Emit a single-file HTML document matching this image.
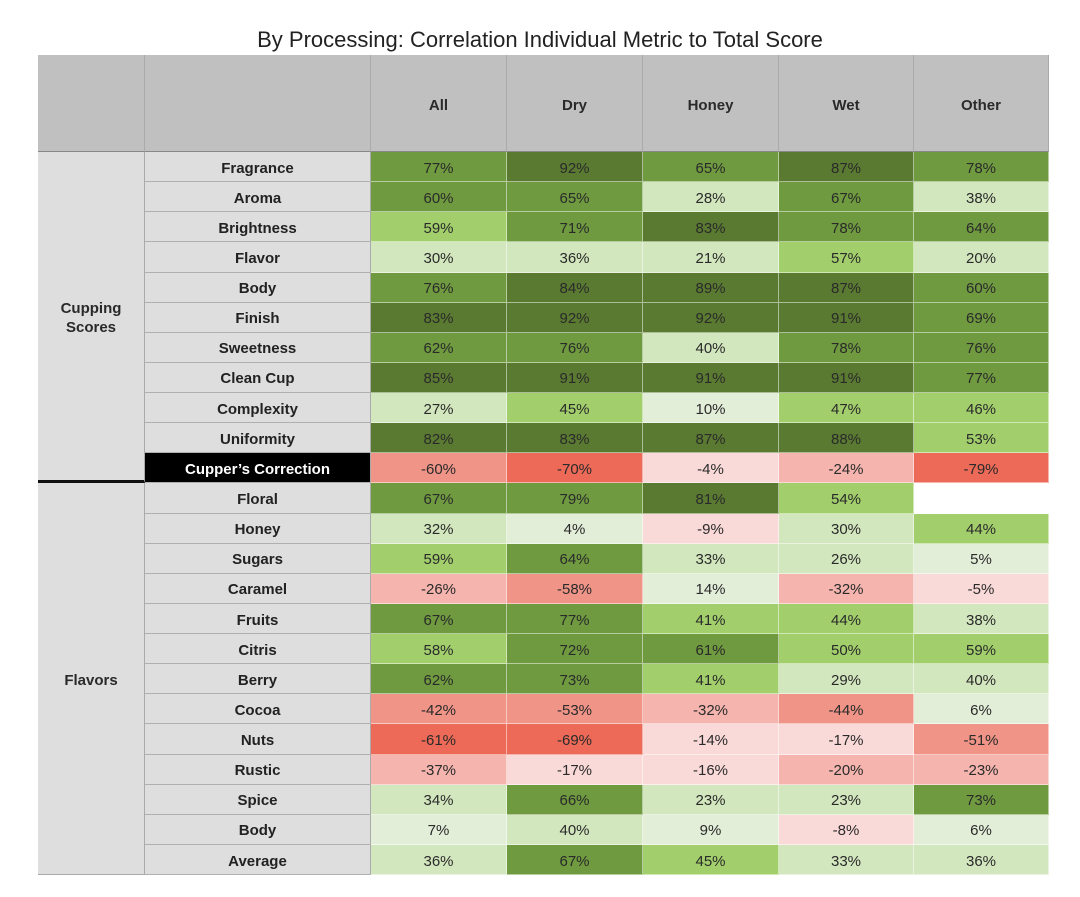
<!DOCTYPE html>
<html><head><meta charset="utf-8"><style>
body{margin:0;width:1080px;height:897px;background:#fff;font-family:"Liberation Sans",sans-serif;position:relative;overflow:hidden}
#title{position:absolute;top:27px;left:0;width:1080px;text-align:center;font-size:22px;color:#222}
#tbl{position:absolute;left:38px;top:55px}
.c{position:absolute;box-sizing:border-box;display:flex;align-items:center;justify-content:center;font-size:15px;color:#2a2a2a;padding-top:3px}
</style></head><body>
<div id="title">By Processing: Correlation Individual Metric to Total Score</div>
<div id="tbl"></div>
<script>
const columns=["All","Dry","Honey","Wet","Other"];
const metrics=["Fragrance","Aroma","Brightness","Flavor","Body","Finish","Sweetness","Clean Cup","Complexity","Uniformity","Cupper’s Correction","Floral","Honey","Sugars","Caramel","Fruits","Citris","Berry","Cocoa","Nuts","Rustic","Spice","Body","Average"];
const groups=[["Cupping\nScores",0,11],["Flavors",11,24]];
const valAll=[77,60,59,30,76,83,62,85,27,82,-60,67,32,59,-26,67,58,62,-42,-61,-37,34,7,36];
const valDry=[92,65,71,36,84,92,76,91,45,83,-70,79,4,64,-58,77,72,73,-53,-69,-17,66,40,67];
const valHoney=[65,28,83,21,89,92,40,91,10,87,-4,81,-9,33,14,41,61,41,-32,-14,-16,23,9,45];
const valWet=[87,67,78,57,87,91,78,91,47,88,-24,54,30,26,-32,44,50,29,-44,-17,-20,23,-8,33];
const valOther=[78,38,64,20,60,69,76,77,46,53,-79,null,44,5,-5,38,59,40,6,-51,-23,73,6,36];
const series=[valAll,valDry,valHoney,valWet,valOther];
const T=document.getElementById('tbl');
const X=[0,107,333,469,605,741,876,1011], H0=97, RH=30.13;
function color(v){
 if(v===null)return '#ffffff';
 if(v>=80)return '#5a7a31';if(v>=60)return '#6f9a3f';if(v>=41)return '#a2cf6c';
 if(v>=20)return '#d3e7be';if(v>=0)return '#e3eed9';
 if(v>-20)return '#fadad8';if(v>-40)return '#f5b5ae';if(v>=-60)return '#f09487';return '#ec6a57';
}
function cell(x,y,w,h,txt,st){const d=document.createElement('div');d.className='c';
 d.style.left=x+'px';d.style.top=y+'px';d.style.width=w+'px';d.style.height=h+'px';
 Object.assign(d.style,st||{});if(txt!==null)d.textContent=txt;T.appendChild(d);return d;}
let h=cell(0,0,X[1],H0,'',{background:'#c0c0c0',borderRight:'1px solid #aaa',borderBottom:'1px solid #888'});


h=cell(X[1],0,X[2]-X[1],H0,'',{background:'#c0c0c0',borderRight:'1px solid #aaa',borderBottom:'1px solid #888'});


columns.forEach((c,i)=>{const d=cell(X[i+2],0,X[i+3]-X[i+2],H0,c,{background:'#c0c0c0',fontWeight:'bold',borderRight:'1px solid #aaa',borderBottom:'1px solid #888',paddingTop:'4px'});
 
 });
groups.forEach((g,gi)=>{const y=H0+g[1]*RH,hh=(g[2]-g[1])*RH;
 const d=cell(0,y,X[1],hh,'',{background:'#dedede',fontWeight:'bold',whiteSpace:'pre',textAlign:'center',lineHeight:'19px',borderRight:'1px solid #aaa',borderBottom:gi==0?'3px solid #111':'1px solid #aaa'});
 d.textContent=g[0];
 
 });
metrics.forEach((m,r)=>{const y=H0+r*RH;const cc=m.startsWith('Cupper');
 const d=cell(X[1],y,X[2]-X[1],RH,m,{background:cc?'#000':'#dedede',color:cc?'#fff':'#222',fontWeight:'bold',borderBottom:'1px solid #b0b0b0',borderRight:'1px solid #aaa'});
 
 
 series.forEach((s,i)=>{const v=s[r];
  const e=cell(X[i+2],y,X[i+3]-X[i+2],RH,v===null?'':v+'%',{background:color(v),borderBottom:'1px solid rgba(255,255,255,0.5)',borderRight:'1px solid rgba(255,255,255,0.5)'});
  
  });
});
</script>
</body></html>
